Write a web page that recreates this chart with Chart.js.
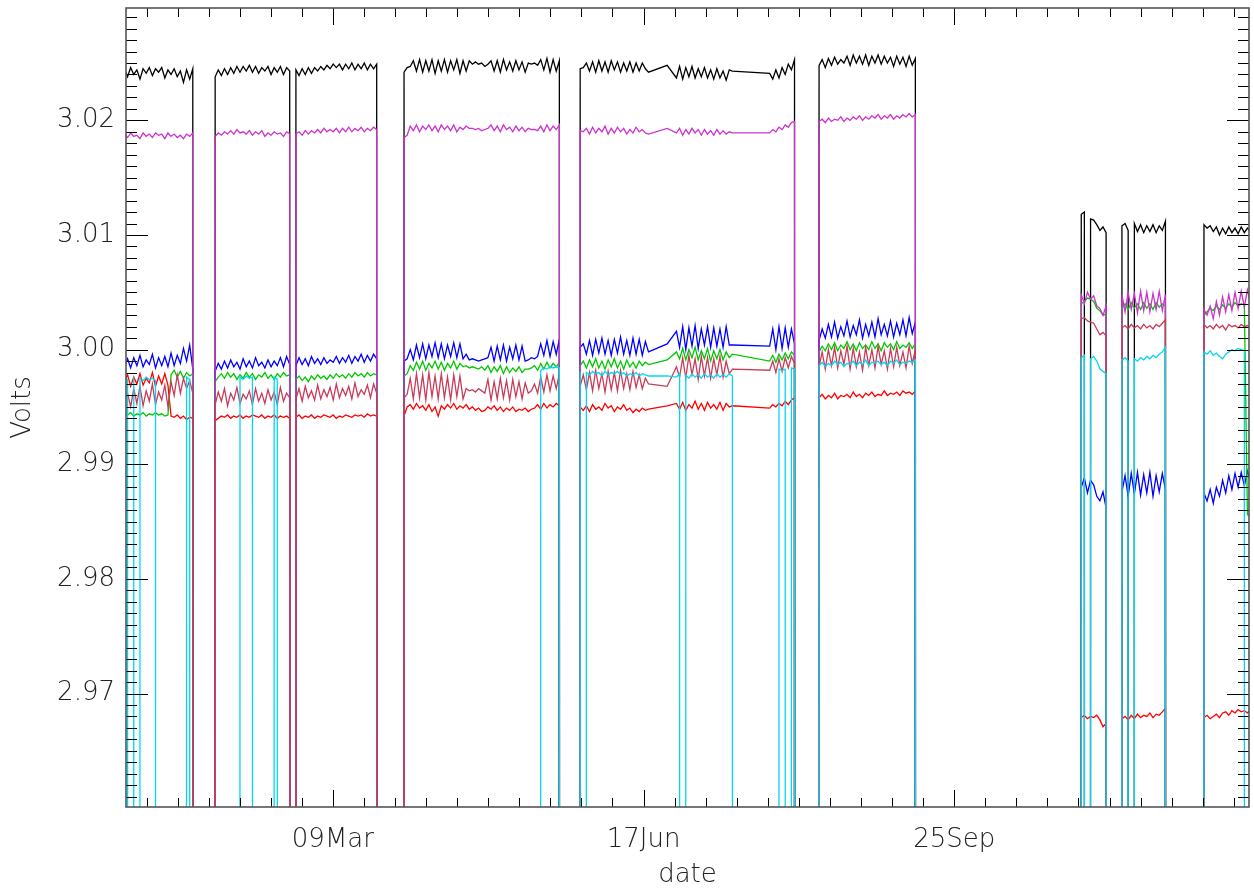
<!DOCTYPE html>
<html>
<head>
<meta charset="utf-8">
<script src="https://cdn.jsdelivr.net/npm/chart.js@4.4.1/dist/chart.umd.min.js"></script>
<style>
html,body{margin:0;padding:0;background:#fff;}
#wrap{width:1254px;height:888px;}
</style>
</head>
<body>
<div id="wrap"><canvas id="c" width="1254" height="888"></canvas></div>
<script>
// ---- DATA ----------------------------------------------------------------
// day of year (1 value per day inside each recording segment)
const segStart = [0.9, 29.1, 89.9, 146.6, 223.5, 307.9, 321.0, 347.4];
// values in units of 0.1 mV; 0 = dropout (0 V), null = missing (line bridged)
const UNIT = 1e-4;

const blackV = [
 [30245,30238,30246,30240,30244,30236,30245,30241,30246,30239,30245,30242,30246,30237,30244,30240,30245,30238,30243,30233,30244,30236,30245,0],
 [0,30238,30244,30239,30245,30240,30246,30241,30247,30242,30247,30243,30248,30242,30247,30241,30246,30243,30247,30240,30246,30242,30247,30240,30246,30243,0,30244,30239,30245,30240,30246,30241,30246,30243,30247,30244,30248,30245,30249,30246,30249,30244,30249,30245,30250,30244,30249,30245,30250,30244,30249,30245,30249,0],
 [0,30242,30246,30247,30252,30243,30253,30242,30252,30243,30253,30241,30252,30243,30253,30242,30252,30244,30253,30241,30252,30243,30252,30249,30251,30249,30250,30247,30249,30252,30243,30252,30242,30253,30244,30251,30243,30252,30244,30251,30242,30250,30249,30250,30248,30253,30244,30254,30242,30253,30243,30252,0],
 [0,30245,30246,30250,30243,30251,30242,30252,30243,30251,30242,30252,30244,30251,30242,30250,30243,30251,30242,30250,30243,30250,30245,30242,null,null,null,null,null,30248,null,null,30237,30247,30236,30246,30238,30247,30237,30245,30238,30246,30237,30244,30236,30245,30237,30243,30235,30244,30243,null,null,null,null,null,null,null,null,null,null,null,30241,30236,30244,30237,30246,30240,30249,30244,30253,0],
 [0,30248,30253,30246,30254,30248,30255,30249,30253,30250,30256,30248,30257,30250,30256,30249,30257,30248,30256,30250,30257,30249,30256,30250,30255,30247,30256,30249,30255,30247,30256,30248,30254,0],
 [0,30118,30120,0,30114,30113,30109,30104,30107,30102,0],
 [0,30108,30110,30104,0,30110,30103,30109,30102,30108,30103,30109,30102,30108,30104,30112,0],
 [0,30109,30106,30108,30103,30107,30100,30106,30101,30107,30102,30106,30101,30107,30102,30106,30103]
];

const magentaV = [
 [30188,30185,30189,30186,30187,30184,30189,30186,30188,30185,30189,30187,30188,30184,30189,30186,30188,30185,30187,30184,30188,30186,30189,0],
 [0,30186,30189,30187,30190,30188,30191,30188,30192,30189,30190,30188,30191,30187,30190,30188,30191,30186,30189,30187,30190,30188,30189,30186,30190,30188,0,30188,30190,30187,30191,30188,30191,30189,30192,30189,30193,30190,30192,30190,30193,30189,30193,30190,30194,30190,30193,30191,30194,30190,30193,30191,30194,30192,0],
 [0,30185,30187,30195,30191,30196,30190,30195,30192,30196,30191,30195,30190,30196,30192,30195,30191,30196,30190,30194,30192,30195,30193,30193,30192,30193,30191,30192,30193,30196,30191,30195,30190,30196,30192,30194,30190,30195,30191,30194,30190,30193,30192,30192,30191,30195,30190,30196,30191,30195,30192,30196,0],
 [0,30191,30190,30193,30188,30194,30189,30193,30190,30195,30188,30193,30189,30194,30190,30193,30188,30192,30189,30194,30190,30192,30189,30188,null,null,null,null,null,30193,null,null,30189,30193,30187,30192,30188,30193,30189,30192,30187,30192,30188,30191,30187,30192,30188,30191,30188,30190,30189,null,null,null,null,null,null,null,null,null,null,null,30189,30192,30190,30194,30192,30196,30194,30198,30199,0],
 [0,30199,30201,30198,30202,30199,30201,30200,30203,30199,30202,30200,30203,30201,30204,30200,30203,30201,30204,30202,30205,30201,30204,30202,30205,30201,30204,30202,30205,30203,30206,30203,30205,0],
 [0,30048,30040,30050,30044,30047,30038,30036,30030,30038,0],
 [0,30048,30033,30050,30035,30049,30032,30051,30034,30050,30033,30049,30035,30051,30034,30048,0],
 [0,30035,30030,30038,30027,30042,30030,30046,30033,30048,30034,30050,30036,30051,30037,30052,30040]
];

const blueV = [
 [29985,29992,29984,29993,29986,29995,29985,29991,29987,29996,29984,29993,29986,29994,29985,29997,29986,29995,29988,30001,29990,30004,29983,0],
 [0,29981,29988,29983,29990,29984,29991,29985,29989,29983,29992,29985,29990,29984,29993,29986,29989,29984,29991,29985,29990,29986,29993,29985,29994,29987,0,29986,29993,29987,29992,29986,29994,29988,29992,29987,29993,29988,29991,29989,29994,29988,29993,29989,29995,29988,29994,29990,29996,29989,29995,29990,29996,29992,0],
 [0,29990,29992,30000,29991,30004,29993,30005,29992,30004,29994,30006,29993,30005,29992,30004,29994,30006,29993,30005,29992,29996,29991,29992,29991,29990,29991,29992,29993,30002,29990,30003,29991,30004,29990,30002,29992,30004,29991,30003,29990,29991,29993,29992,29994,30005,29995,30008,29994,30007,29996,30009,0],
 [0,30002,30005,29996,30008,29995,30009,29997,30010,29996,30008,29995,30009,29997,30011,29996,30008,29995,30010,29996,30009,29995,30007,29998,null,null,null,null,null,30005,null,null,30016,30002,30020,30000,30019,30003,30021,30001,30018,30004,30020,30002,30019,30003,30018,30002,30020,30004,30004,null,null,null,null,null,null,null,null,null,null,null,30003,30018,30000,30020,30001,30019,30002,30018,30005,0],
 [0,30008,30018,30010,30022,30011,30024,30010,30020,30012,30025,30011,30021,30013,30026,30010,30022,30012,30024,30011,30027,30013,30022,30012,30025,30011,30023,30013,30026,30012,30028,30014,30024,0],
 [0,29880,29888,29875,29886,29882,29872,29868,29876,29862,0],
 [0,29876,29890,29872,29892,29874,29893,29873,29891,29875,29893,29872,29890,29876,29892,29878,0],
 [0,29875,29868,29878,29866,29880,29872,29886,29875,29890,29878,29892,29880,29893,29881,29894,29884]
];

const greenV = [
 [29944,29943,29945,29942,29944,29943,29945,29942,29944,29943,29945,29943,29944,29942,29943,29978,29982,29976,29981,29975,29980,29977,29979,0],
 [0,29972,29976,29979,29975,29980,29976,29979,29974,29978,29975,29980,29976,29979,29974,29978,29976,29980,29975,29978,29974,29979,29976,29980,29977,29978,0,29974,29977,29973,29976,29972,29977,29974,29978,29975,29977,29974,29978,29975,29979,29976,29978,29975,29979,29976,29980,29977,29979,29976,29980,29977,29979,29978,0],
 [0,29977,29979,29986,29982,29989,29983,29990,29982,29988,29984,29990,29983,29989,29982,29988,29984,29990,29983,29988,29985,29986,29984,29985,29984,29983,29985,29982,29986,29980,29985,29981,29986,29979,29985,29980,29984,29981,29985,29980,29983,29983,29984,29986,29982,29988,29983,29989,29984,29988,29985,29989,0],
 [0,29986,29990,29984,29991,29985,29992,29984,29990,29983,29991,29985,29992,29984,29990,29983,29991,29985,29989,29984,29990,29986,29989,29987,null,null,null,null,null,29991,null,null,29998,29992,30001,29991,30000,29993,30002,29991,29999,29992,30001,29990,29999,29992,30000,29991,29998,29993,29996,null,null,null,null,null,null,null,null,null,null,null,29990,29995,29989,29996,29991,29997,29992,29998,29995,0],
 [0,29998,30003,29999,30005,30000,30006,29999,30004,30001,30007,30000,30005,29999,30006,30001,30004,30000,30007,30001,30005,29999,30006,30002,30005,30000,30007,30001,30004,30002,30006,30001,30005,0],
 [0,30040,30042,30045,30044,30042,30036,30034,30030,30031,0],
 [0,30036,30040,30035,30041,30036,30040,30035,30041,30036,30040,30035,30041,30037,30040,30038,0],
 [0,30030,30033,30036,30034,30038,30035,30039,30036,30040,30037,30041,30038,30040,30039,29856,29855]
];

const crimsonV = [
 [29955,29962,29950,29966,29953,29968,29951,29964,29955,29970,29952,29963,29956,29969,29950,29972,29960,29978,29962,29975,29966,29973,29962,0],
 [0,29952,29963,29955,29966,29951,29962,29956,29967,29953,29961,29957,29964,29952,29966,29955,29962,29953,29965,29956,29963,29952,29967,29955,29962,29958,0,29957,29966,29955,29968,29958,29964,29956,29969,29957,29965,29959,29967,29956,29970,29958,29966,29960,29968,29957,29971,29959,29965,29961,29969,29958,29970,29962,0],
 [0,29958,29961,29975,29957,29979,29958,29978,29956,29980,29959,29977,29957,29979,29958,29976,29956,29978,29959,29977,29957,29966,29964,29965,29963,29966,29964,29962,29974,29956,29972,29957,29975,29958,29973,29956,29974,29959,29972,29957,29971,29962,29964,29970,29962,29976,29963,29978,29964,29977,29966,29979,0],
 [0,29968,29978,29965,29980,29964,29982,29966,29979,29963,29981,29965,29980,29964,29982,29966,29979,29965,29981,29967,29978,29966,29975,29970,null,null,null,null,null,29968,null,null,29985,29976,29993,29975,29995,29978,29992,29974,29994,29977,29993,29975,29992,29978,29994,29976,29990,29979,29983,null,null,null,null,null,null,null,null,null,null,null,29982,29990,29980,29992,29981,29993,29984,29994,29988,0],
 [0,29985,29998,29983,30000,29986,30002,29984,29999,29987,30003,29983,30001,29985,29998,29982,30002,29986,30000,29984,30003,29987,29999,29983,30001,29985,30002,29986,29998,29984,30003,29988,30000,0],
 [0,30027,30028,30025,30024,30023,30018,30013,30015,30012,0],
 [0,30019,30021,30018,30022,30019,30021,30018,30022,30019,30021,30018,30022,30020,30023,30026,0],
 [0,30022,30019,30021,30018,30022,30019,30021,30017,30022,30020,30021,30019,30022,30020,30021,30019]
];

const redV = [
 [29972,29978,29968,29976,29970,29979,29969,29975,29971,29980,29968,29977,29970,29979,29969,29942,29941,29943,29940,29942,29939,29941,29940,0],
 [0,29938,29940,29942,29941,29943,29940,29942,29941,29943,29940,29942,29941,29943,29942,29941,29943,29940,29942,29941,29943,29940,29942,29941,29942,29940,0,29941,29943,29940,29942,29941,29943,29940,29942,29941,29943,29942,29941,29943,29940,29942,29941,29943,29942,29941,29943,29942,29943,29941,29944,29942,29943,29942,0],
 [0,29942,29950,29952,29948,29953,29949,29951,29947,29952,29946,29950,29942,29951,29948,29952,29949,29953,29948,29951,29949,29952,29948,29950,29947,29949,29946,29947,29950,29948,29951,29947,29950,29946,29949,29947,29950,29946,29948,29947,29949,29946,29948,29949,29952,29948,29953,29949,29952,29950,29953,29951,0],
 [0,29950,29947,29951,29946,29952,29948,29950,29947,29953,29949,29951,29946,29950,29948,29952,29947,29949,29945,29948,29946,29949,29947,29948,null,null,null,null,null,29951,null,null,29953,29948,29954,29947,29952,29949,29955,29948,29953,29947,29954,29949,29952,29948,29954,29947,29953,29950,29951,null,null,null,null,null,null,null,null,null,null,null,29949,29952,29950,29953,29951,29955,29952,29956,29958,0],
 [0,29958,29961,29957,29960,29958,29962,29957,29960,29959,29961,29958,29963,29959,29961,29958,29962,29960,29963,29959,29961,29960,29964,29960,29962,29961,29963,29960,29964,29962,29963,29961,29964,0],
 [0,29679,29681,29678,29680,29679,29681,29677,29671,29674,0],
 [0,29678,29680,29677,29681,29678,29682,29679,29681,29680,29683,29679,29682,29681,29684,29687,0],
 [0,29679,29681,29678,29680,29682,29679,29683,29684,29681,29685,29683,29686,29684,29685,29683,29686]
];

const cyanV = [
 [29975,29974,0,29976,0,29975,29973,29976,29974,29975,29973,0,0,0,0,0,0,0,0,0,29976,29974,0,0],
 [0,0,0,0,0,0,0,0,0,29976,29974,29977,29975,29976,0,0,0,0,0,0,29976,29974,0,0,0,0,0,0,0,0,0,0,0,0,0,0,0,0,0,0,0,0,0,0,0,0,0,0,0,0,0,0,0,0,0],
 [0,0,0,0,0,0,0,0,0,0,0,0,0,0,0,0,0,0,0,0,0,0,0,0,0,0,0,0,0,0,0,0,0,0,0,0,0,0,0,0,0,0,0,0,0,29982,29984,29983,29985,29984,29985,29984,0],
 [0,29981,0,29980,29978,29981,29979,29980,29977,29981,29978,29980,29979,29981,29978,29980,29977,29979,29978,29980,29977,29979,29978,29977,null,null,null,null,null,29977,null,null,29976,29979,0,29978,29975,29979,29976,29978,29975,29979,29976,29978,29975,29979,29976,29978,29976,29979,29977,0,0,0,0,0,0,0,0,0,0,0,0,0,0,29983,29982,29983,0,29984,29983,0],
 [0,29986,29989,29985,29988,29986,29990,29987,29989,29985,29988,29987,29990,29986,29989,29987,29991,29986,29989,29988,29990,29987,29989,29986,29990,29988,29991,29987,29989,29988,29990,29989,29991,0],
 [0,29993,29995,0,29992,29994,29990,29983,29981,29979,0],
 [0,29991,29993,29990,0,29992,29990,29993,29991,29994,29992,29995,29993,29996,29998,30002,0],
 [0,29998,29996,29999,29995,29997,29994,29992,29996,29998,30000,29999,30001,30000,29999,0,30000]
];

// axis ticks
const xMajorDays = [68, 168, 268];
const xMajorLabels = ['09Mar', '17Jun', '25Sep'];
const yTickLabels = ['2.97', '2.98', '2.99', '3.00', '3.01', '3.02'];

// ---- BUILD ---------------------------------------------------------------
function toPoints(segs) {
  const pts = [];
  segs.forEach((vals, k) => vals.forEach((v, i) => {
    pts.push({ x: segStart[k] + i, y: v === null ? null : v * UNIT });
  }));
  return pts;
}

// first entry is drawn on top
const series = [
  { label: 'cyan',    data: cyanV,    color: '#00d8f0' },
  { label: 'crimson', data: crimsonV, color: '#c83c5a' },
  { label: 'magenta', data: magentaV, color: '#cc33cc' },
  { label: 'green',   data: greenV,   color: '#00c800' },
  { label: 'blue',    data: blueV,    color: '#0000ff' },
  { label: 'red',     data: redV,     color: '#ff0000' },
  { label: 'black',   data: blackV,   color: '#000000' }
];

const FONT = "'DejaVu Sans', 'Liberation Sans', sans-serif";

const frameTicks = {
  id: 'frameTicks',
  afterDraw(chart) {
    const { ctx, chartArea: a, scales: { x, y } } = chart;
    ctx.save();
    ctx.strokeStyle = '#000';
    ctx.lineWidth = 1;
    ctx.beginPath();
    x.ticks.forEach(t => {
      const px = Math.round(x.getPixelForValue(t.value)) + 0.5;
      const L = xMajorDays.includes(t.value) ? 17 : 9;
      ctx.moveTo(px, a.bottom); ctx.lineTo(px, a.bottom - L);
      ctx.moveTo(px, a.top); ctx.lineTo(px, a.top + L);
    });
    y.ticks.forEach(t => {
      const py = Math.round(y.getPixelForValue(t.value)) + 0.5;
      const L = yTickLabels.includes(t.value.toFixed(2)) && Math.round(t.value * 1000) % 10 === 0 ? 22 : 11;
      ctx.moveTo(a.left, py); ctx.lineTo(a.left + L, py);
      ctx.moveTo(a.right, py); ctx.lineTo(a.right - L, py);
    });
    ctx.stroke();
    ctx.strokeStyle = '#555';
    ctx.lineWidth = 1.6;
    ctx.strokeRect(a.left, a.top, a.right - a.left, a.bottom - a.top);
    ctx.restore();
  }
};

new Chart(document.getElementById('c'), {
  type: 'line',
  data: {
    datasets: series.map(s => ({
      label: s.label,
      data: toPoints(s.data),
      borderColor: s.color,
      backgroundColor: s.color,
      borderWidth: 1.3,
      pointRadius: 0,
      tension: 0,
      spanGaps: true,
      fill: false
    }))
  },
  options: {
    responsive: false,
    animation: false,
    events: [],
    layout: { padding: { top: 8, right: 5, left: 0, bottom: 0 } },
    plugins: { legend: { display: false }, tooltip: { enabled: false } },
    scales: {
      x: {
        type: 'linear',
        min: 1.4,
        max: 362.9,
        afterBuildTicks(scale) {
          const t = [];
          for (let d = 8; d <= 358; d += 10) t.push({ value: d });
          scale.ticks = t;
        },
        afterFit(scale) {
          scale.height = 81;
          scale.paddingLeft = 0; scale.paddingRight = 0;
        },
        grid: { display: false, drawTicks: false },
        border: { display: false },
        ticks: {
          autoSkip: false,
          maxRotation: 0,
          padding: 18,
          color: '#222',
          font: { family: FONT, size: 26, weight: '200' },
          callback: v => {
            const i = xMajorDays.indexOf(v);
            return i >= 0 ? xMajorLabels[i] : '';
          }
        },
        title: {
          display: true,
          text: 'date',
          color: '#222',
          font: { family: FONT, size: 26, weight: '200', lineHeight: 1 },
          padding: { top: 0, bottom: 0 }
        }
      },
      y: {
        type: 'linear',
        min: 2.9601,
        max: 3.0298,
        afterBuildTicks(scale) {
          const t = [];
          for (let k = 2961; k <= 3029; k++) t.push({ value: k / 1000 });
          scale.ticks = t;
        },
        afterFit(scale) {
          scale.width = 126;
          scale.paddingTop = 0; scale.paddingBottom = 0;
        },
        grid: { display: false, drawTicks: false },
        border: { display: false },
        ticks: {
          autoSkip: false,
          padding: 11,
          color: '#222',
          font: { family: FONT, size: 26, weight: '200' },
          callback: v => {
            const s = v.toFixed(2);
            return Math.round(v * 1000) % 10 === 0 && yTickLabels.includes(s) ? s : '';
          }
        },
        title: {
          display: true,
          text: 'Volts',
          color: '#222',
          font: { family: FONT, size: 26, weight: '200', lineHeight: 1 },
          padding: { top: 10, bottom: 0 }
        }
      }
    }
  },
  plugins: [frameTicks]
});
</script>
</body>
</html>
